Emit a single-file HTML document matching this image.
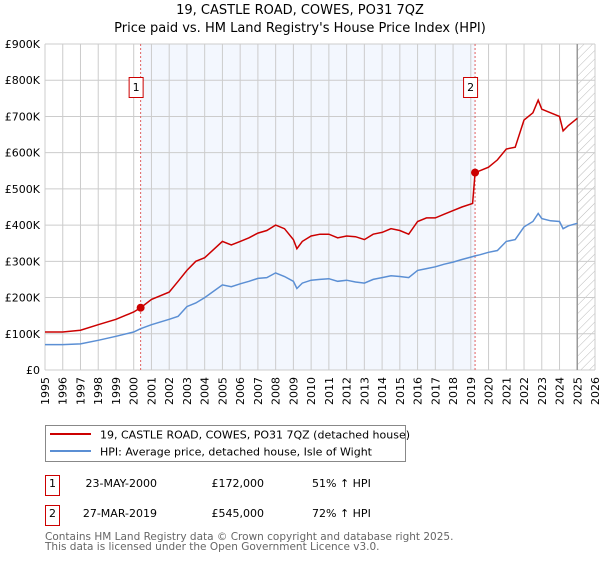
<!DOCTYPE html>
<html><head><meta charset="utf-8"><style>
body{margin:0;background:#fff;font-family:"DejaVu Sans","Liberation Sans",sans-serif;}
svg text{font-family:"DejaVu Sans","Liberation Sans",sans-serif;}
</style></head><body>
<svg id="c" width="600" height="560" xmlns="http://www.w3.org/2000/svg">
<defs><pattern id="hatch" width="6" height="6" patternUnits="userSpaceOnUse" patternTransform="rotate(45)"><line x1="0" y1="0" x2="0" y2="6" stroke="#bbb" stroke-width="1"/></pattern></defs>
<text x="300" y="14" text-anchor="middle" font-size="13">19, CASTLE ROAD, COWES, PO31 7QZ</text>
<text x="300" y="32" text-anchor="middle" font-size="13">Price paid vs. HM Land Registry's House Price Index (HPI)</text>
<g id="plot"></g>
<g>
<rect x="45.5" y="425.5" width="360" height="36" fill="#fff" stroke="#888"/>
<line x1="50" y1="434" x2="91" y2="434" stroke="#cc0000" stroke-width="2"/>
<text x="100" y="438.5" font-size="11">19, CASTLE ROAD, COWES, PO31 7QZ (detached house)</text>
<line x1="50" y1="451" x2="91" y2="451" stroke="#5b8fd4" stroke-width="2"/>
<text x="100" y="455.5" font-size="11">HPI: Average price, detached house, Isle of Wight</text>
</g>
<g font-size="11">
<rect x="45.5" y="475.5" width="14" height="20" fill="#fff" stroke="#cc0000"/>
<text x="52.5" y="487" text-anchor="middle">1</text>
<text x="157" y="487" text-anchor="end">23-MAY-2000</text>
<text x="264" y="487" text-anchor="end">£172,000</text>
<text x="312" y="487">51% ↑ HPI</text>
<rect x="45.5" y="505.5" width="14" height="20" fill="#fff" stroke="#cc0000"/>
<text x="52.5" y="517" text-anchor="middle">2</text>
<text x="157" y="517" text-anchor="end">27-MAR-2019</text>
<text x="264" y="517" text-anchor="end">£545,000</text>
<text x="312" y="517">72% ↑ HPI</text>
</g>
<text x="45" y="540" font-size="10.5" fill="#666">Contains HM Land Registry data © Crown copyright and database right 2025.</text>
<text x="45" y="550" font-size="10.5" fill="#666">This data is licensed under the Open Government Licence v3.0.</text>
</svg>
<script>
const years=[1995,1996,1997,1998,1999,2000,2000.39,2001,2002,2002.5,2003,2003.5,2004,2005,2005.5,2006,2006.5,2007,2007.5,2008,2008.5,2009,2009.2,2009.5,2010,2010.5,2011,2011.5,2012,2012.5,2013,2013.5,2014,2014.5,2015,2015.5,2016,2016.5,2017,2017.5,2018,2018.5,2019.1,2019.24,2019.5,2020,2020.5,2021,2021.5,2022,2022.5,2022.8,2023,2023.5,2024,2024.2,2024.5,2025];
const priceK=[105,105,110,125,140,160,172,195,215,245,275,300,310,355,345,355,365,378,385,400,390,360,335,355,370,375,375,365,370,368,360,375,380,390,385,375,410,420,420,430,440,450,460,545,550,560,580,610,615,690,710,745,720,710,700,660,675,695];
const hpiK=[70,70,72,82,93,105,114,125,140,148,175,185,200,235,230,238,245,253,255,268,258,245,225,240,248,250,252,245,248,243,240,250,255,260,258,255,275,280,285,292,298,305,313,315,318,325,330,355,360,395,410,432,418,412,410,390,398,405];
const yTicks=[0,100,200,300,400,500,600,700,800,900];
const yTickLabels=["£0","£100K","£200K","£300K","£400K","£500K","£600K","£700K","£800K","£900K"];
const xTicks=[1995,1996,1997,1998,1999,2000,2001,2002,2003,2004,2005,2006,2007,2008,2009,2010,2011,2012,2013,2014,2015,2016,2017,2018,2019,2020,2021,2022,2023,2024,2025,2026];
const saleYears=[2000.39,2019.24];
const salePricesK=[172,545];
const saleLabels=["1","2"];
const X0=45,X1=595,Y0=370,Y1=44;
const xs=v=>X0+(v-1995)/(2026-1995)*(X1-X0);
const ys=v=>Y0-v/900*(Y0-Y1);
const NS="http://www.w3.org/2000/svg";
const g=document.getElementById('plot');
function mk(t,a){const e=document.createElementNS(NS,t);for(const k in a)e.setAttribute(k,a[k]);g.appendChild(e);return e;}
let e;
e=mk('rect',{x:xs(saleYears[0]),y:Y1,width:xs(saleYears[1])-xs(saleYears[0]),height:Y0-Y1,fill:'#eef3fd',opacity:0.7});


e=mk('rect',{x:xs(2025),y:Y1,width:X1-xs(2025),height:Y0-Y1,fill:'url(#hatch)'});


xTicks.forEach(t=>{e=mk('line',{x1:xs(t),x2:xs(t),y1:Y1,y2:Y0,stroke:'#ccc','stroke-width':1});


e=mk('text',{x:0,y:0,'font-size':11,'text-anchor':'end',transform:`translate(${xs(t)+4},377) rotate(-90)`});e.textContent=t;

});
yTicks.forEach((t,i)=>{e=mk('line',{x1:X0,x2:X1,y1:ys(t),y2:ys(t),stroke:'#ccc','stroke-width':1});


e=mk('text',{x:40,y:ys(t)+4,'font-size':11,'text-anchor':'end'});e.textContent=yTickLabels[i];

});
e=mk('line',{x1:xs(2025),x2:xs(2025),y1:Y1,y2:Y0,stroke:'#999','stroke-width':1.5});


saleYears.forEach((s,i)=>{e=mk('line',{x1:xs(s),x2:xs(s),y1:Y1,y2:Y0,stroke:'#e06060','stroke-width':1,'stroke-dasharray':'2,2'});


e=mk('rect',{x:xs(s)-11.5,y:77.5,width:14,height:20,fill:'#fff',stroke:'#cc0000'});


e=mk('text',{x:xs(s)-4.5,y:91,'font-size':11,'text-anchor':'middle'});e.textContent=saleLabels[i];

});
const pt=a=>years.map((y,i)=>xs(y).toFixed(1)+','+ys(a[i]).toFixed(1)).join(' ');
e=mk('polyline',{points:pt(hpiK),fill:'none',stroke:'#5b8fd4','stroke-width':1.5});


e=mk('polyline',{points:pt(priceK),fill:'none',stroke:'#cc0000','stroke-width':1.5});


saleYears.forEach((s,i)=>{e=mk('circle',{cx:xs(s),cy:ys(salePricesK[i]),r:4,fill:'#cc0000'});

});
</script>
</body></html>
